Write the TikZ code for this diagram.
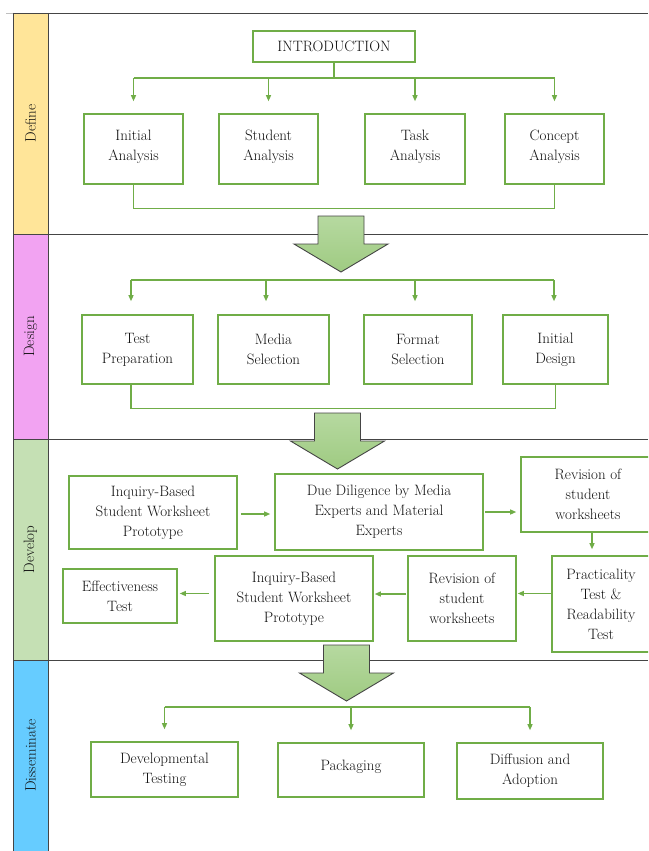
\documentclass[tikz,border=0pt]{standalone}
\usetikzlibrary{arrows.meta}
\definecolor{grn}{HTML}{70AD47}
\definecolor{lanegray}{HTML}{454545}
\definecolor{cdefine}{HTML}{FFE599}
\definecolor{cdesign}{HTML}{F2A3F2}
\definecolor{cdevelop}{HTML}{C5E0B4}
\definecolor{cdissem}{HTML}{66CCFF}
\definecolor{bigtop}{HTML}{B6D9A0}
\definecolor{bigbot}{HTML}{9FCB82}
\definecolor{txt}{HTML}{111111}
\tikzset{
  box/.style={draw=grn, line width=1.6pt, fill=white, align=center, inner sep=2pt, text=txt},
  conn/.style={draw=grn, line width=1.2pt},
  arr/.style={conn, -{Triangle[length=6pt,width=5pt]}},
  laneline/.style={draw=lanegray, line width=0.9pt},
  lanelabel/.style={rotate=90, text=txt},
  bigarrow/.style={draw=lanegray, line width=0.9pt, top color=bigtop, bottom color=bigbot, line join=miter}
}
\newcommand{\bigarr}[2]{%
  \path[bigarrow] (#1-23,#2) -- (#1+23,#2) -- (#1+23,#2+28) -- (#1+47,#2+28) -- (#1,#2+56) -- (#1-47,#2+28) -- (#1-23,#2+28) -- cycle;}
\begin{document}
\begin{tikzpicture}[x=1pt,y=-1pt,font=\fontsize{15}{20}\selectfont]
\useasboundingbox (0,0) rectangle (648,851);
\clip (0,0) rectangle (648,851);
% lanes
\fill[cdefine] (13,13) rectangle (48,234);
\fill[cdesign] (13,234) rectangle (48,439);
\fill[cdevelop] (13,439) rectangle (48,660);
\fill[cdissem] (13,660) rectangle (48,851);
\draw[draw=lightgray, line width=0.9pt] (6,13) -- (13,13);
\draw[laneline] (13,13) -- (648,13);
\draw[laneline] (13,234) -- (648,234);
\draw[laneline] (13,439) -- (648,439);
\draw[laneline] (13,660) -- (648,660);
\draw[laneline] (13,13) -- (13,851);
\draw[laneline] (48,13) -- (48,851);
\node[lanelabel] (ldef) at (30.5,123.5) {Define};
\node[lanelabel] (ldes) at (30.5,336.5) {Design};
\node[lanelabel] (ldev) at (30.5,549.5) {Develop};
\node[lanelabel] (ldis) at (30.5,755.5) {Disseminate};
% big arrows
\bigarr{341}{216}
\bigarr{337.5}{413}
\bigarr{346.5}{645}
% ---------- Define ----------
\node[box, minimum width=162pt, minimum height=31pt] (intro) at (334,46.5) {INTRODUCTION};
\node[box, minimum width=99pt, minimum height=70pt] (ia) at (133.5,149) {Initial\\Analysis\\[-12pt]\mbox{}};
\node[box, minimum width=99pt, minimum height=70pt] (sa) at (268.5,149) {Student\\Analysis\\[-12pt]\mbox{}};
\node[box, minimum width=100pt, minimum height=70pt] (ta) at (415,149) {Task\\Analysis\\[-12pt]\mbox{}};
\node[box, minimum width=99pt, minimum height=70pt] (ca) at (554.5,149) {Concept\\Analysis\\[-12pt]\mbox{}};
\coordinate (b1) at (0,78);
\draw[conn] (intro.south) -- (intro.south |- b1);
\draw[conn] (ia.north |- b1) -- (ca.north |- b1);
\foreach \n in {ia,sa,ta,ca} \draw[arr] (\n.north |- b1) -- ([yshift=12pt]\n.north);
\draw[conn] (ia.south) -- ++(0,24) -| (ca.south);
% ---------- Design ----------
\node[box, minimum width=111pt, minimum height=69pt] (tp) at (137.5,349.5) {Test\\Preparation};
\node[box, minimum width=111pt, minimum height=69pt] (ms) at (273.5,349.5) {Media\\Selection};
\node[box, minimum width=108pt, minimum height=69pt] (fs) at (418,349.5) {Format\\Selection};
\node[box, minimum width=105pt, minimum height=69pt] (id) at (555.5,349.5) {Initial\\Design};
\coordinate (b2) at (0,280);
\coordinate (tpx) at ([xshift=-6.5pt]tp.north);
\coordinate (msx) at ([xshift=-7.5pt]ms.north);
\coordinate (fsx) at ([xshift=-3pt]fs.north);
\coordinate (idx) at ([xshift=-1.5pt]id.north);
\draw[conn] (tpx |- b2) -- (idx |- b2);
\foreach \n/\m in {tpx/tp,msx/ms,fsx/fs,idx/id} \draw[arr] (\n |- b2) -- ([yshift=13pt]\n);
\draw[conn] (tpx |- tp.south) -- ++(0,24) -| (id.south);
% ---------- Develop ----------
\node[box, minimum width=168pt, minimum height=73pt] (pa) at (153,512.5) {Inquiry-Based\\Student Worksheet\\Prototype};
\node[box, minimum width=208pt, minimum height=76pt] (dd) at (379,512) {Due Diligence by Media\\Experts and Material\\Experts};
\node[box, minimum width=134pt, minimum height=75pt] (r1) at (588,494.5) {Revision of\\student\\worksheets};
\node[box, minimum width=98pt, minimum height=96pt] (pr) at (601,604) {Practicality\\Test \&\\Readability\\Test};
\node[box, minimum width=108pt, minimum height=85pt] (r2) at (462,598.5) {Revision of\\student\\worksheets};
\node[box, minimum width=158pt, minimum height=85pt] (pb) at (294,598.5) {Inquiry-Based\\Student Worksheet\\Prototype};
\node[box, minimum width=114pt, minimum height=54pt] (ef) at (120,596) {Effectiveness\\Test};
\draw[arr, shorten <=3pt, shorten >=4pt] ([yshift=-1.5pt]pa.east) -- ([yshift=-1.5pt]pa.east -| dd.west);
\draw[arr, shorten <=1pt, shorten >=4pt] (dd.east) -- (dd.east -| r1.west);
\coordinate (r1x) at ([xshift=4pt]r1.south);
\draw[arr, shorten >=6pt] (r1x) -- (r1x |- pr.north);
\draw[arr, shorten >=1pt] ([yshift=5pt]r2.east -| pr.west) -- ([yshift=5pt]r2.east);
\draw[arr, shorten <=1pt, shorten >=1pt] ([yshift=4.5pt]r2.west) -- ([yshift=4.5pt]r2.west -| pb.east);
\draw[arr, shorten <=5pt, shorten >=2pt] ([yshift=5pt]pb.west) -- ([yshift=5pt]pb.west -| ef.east);
% ---------- Disseminate ----------
\node[box, minimum width=147pt, minimum height=55pt] (dt) at (164.5,769.5) {Developmental\\Testing};
\node[box, minimum width=146pt, minimum height=54pt] (pk) at (351,770) {Packaging\\[-10pt]\mbox{}};
\node[box, minimum width=146pt, minimum height=56pt] (da) at (530,771) {Diffusion and\\Adoption};
\coordinate (b4) at (0,707);
\draw[conn] (dt.north |- b4) -- (da.north |- b4);
\foreach \n in {dt,pk,da} \draw[arr] (\n.north |- b4) -- ([yshift=12pt]\n.north);
\end{tikzpicture}
\end{document}
